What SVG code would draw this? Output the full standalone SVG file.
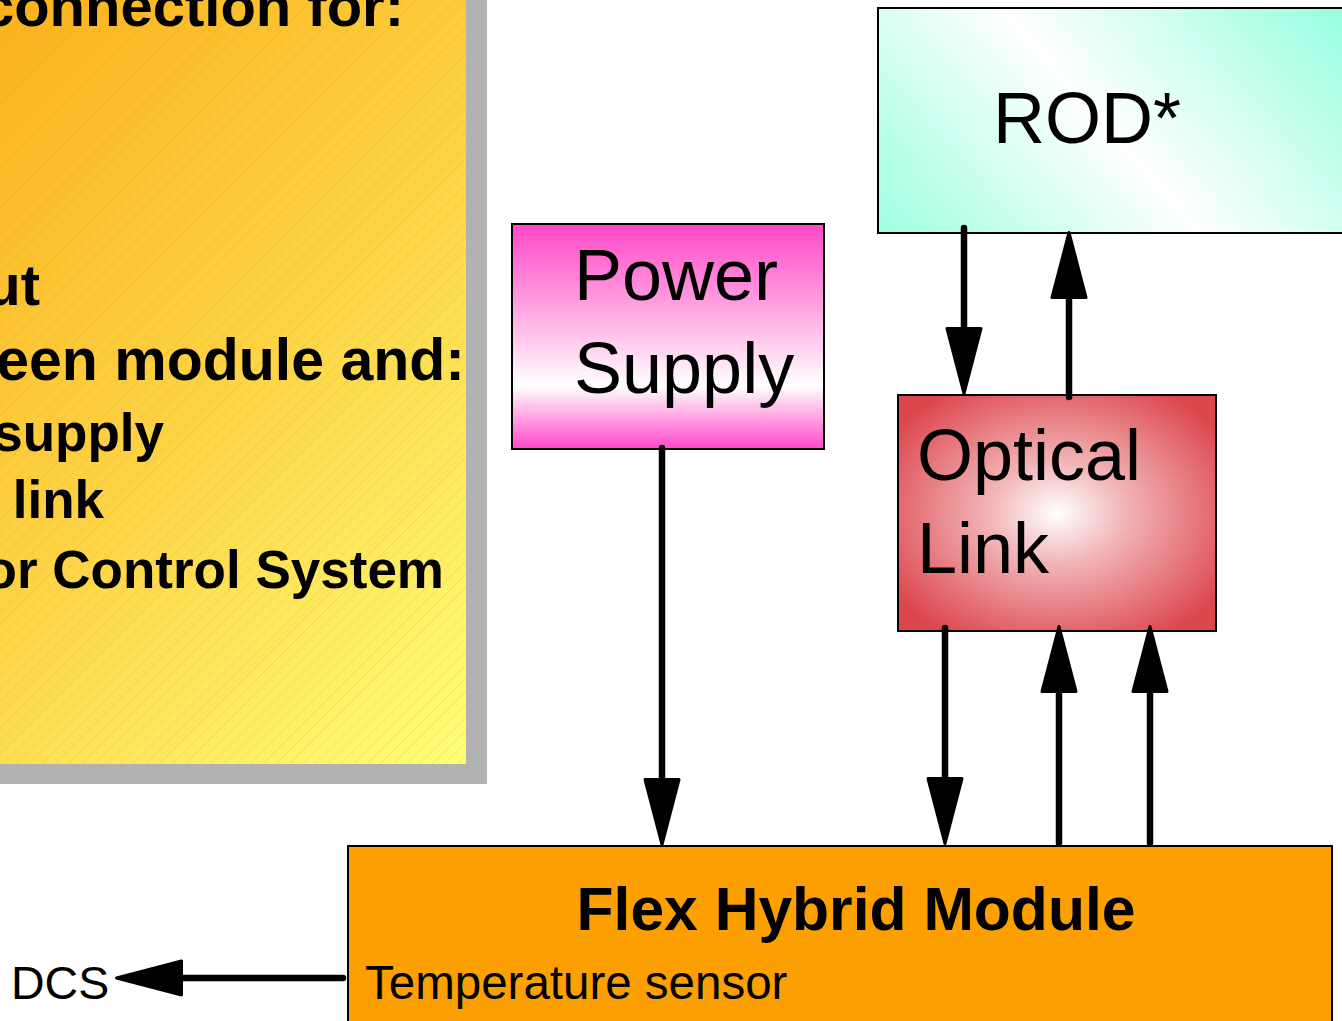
<svg xmlns="http://www.w3.org/2000/svg" width="1342" height="1021" viewBox="0 0 1342 1021">
  <defs>
    <style>
      .bold { font-family: "Liberation Sans", Arial, sans-serif; font-weight: bold; fill: #000; }
      .reg { font-family: "Liberation Sans", Arial, sans-serif; fill: #000; }
      .box { stroke: #000; stroke-width: 2; }
      .conn { stroke: #000; stroke-width: 6.5; fill: none; stroke-linecap: round; marker-end: url(#ah); }
    </style>
    <linearGradient id="gYellow" gradientUnits="userSpaceOnUse" x1="0" y1="0" x2="615" y2="615">
      <stop offset="0" stop-color="#FBB21C"/>
      <stop offset="0.5" stop-color="#FDD445"/>
      <stop offset="1" stop-color="#FFFF78"/>
    </linearGradient>
    <pattern id="hatch" patternUnits="userSpaceOnUse" width="13" height="13">
      <path d="M-1,14 L14,-1 M-1,1 L1,-1 M12,14 L14,12" stroke="#B08A30" stroke-opacity="0.18" stroke-width="1"/>
    </pattern>
    <linearGradient id="gPink" x1="0" y1="0" x2="0" y2="1">
      <stop offset="0" stop-color="#FF48C8"/>
      <stop offset="0.35" stop-color="#FF9EDF"/>
      <stop offset="0.72" stop-color="#FFFFFF"/>
      <stop offset="1" stop-color="#FF48C8"/>
    </linearGradient>
    <linearGradient id="gAqua" gradientUnits="userSpaceOnUse" x1="913" y1="286" x2="1287" y2="-46">
      <stop offset="0" stop-color="#99FFE0"/>
      <stop offset="0.5" stop-color="#FFFFFF"/>
      <stop offset="1" stop-color="#99FFE0"/>
    </linearGradient>
    <radialGradient id="gRed" cx="0.5" cy="0.5" r="0.62">
      <stop offset="0" stop-color="#FFFFFF"/>
      <stop offset="0.35" stop-color="#F2B4B6"/>
      <stop offset="1" stop-color="#DC464D"/>
    </radialGradient>
    <marker id="ah" markerUnits="userSpaceOnUse" markerWidth="74" markerHeight="44" viewBox="-3 -22 74 44" refX="0" refY="0" orient="auto">
      <path d="M0,-17 L65,0 L0,17 Z" fill="#000" stroke="#000" stroke-width="3" stroke-linejoin="round"/>
    </marker>
  </defs>

  <rect x="0" y="0" width="1342" height="1021" fill="#FFFFFF"/>

  <g id="panel">
    <rect x="-40" y="-40" width="527" height="824" fill="#B2B2B2"/>
    <rect x="-60" y="-60" width="526" height="824" fill="url(#gYellow)"/>
    <rect x="-60" y="-60" width="526" height="824" fill="url(#hatch)"/>
    <text class="bold" font-size="58" x="404" y="26" text-anchor="end">connection for:</text>
    <text class="bold" font-size="58" x="40" y="305" text-anchor="end">ut</text>
    <text class="bold" font-size="59" x="465" y="380" text-anchor="end">een module and:</text>
    <text class="bold" font-size="53" x="164" y="451" text-anchor="end">supply</text>
    <text class="bold" font-size="53" x="104" y="518" text-anchor="end">link</text>
    <text class="bold" font-size="53" x="444" y="588" text-anchor="end">or Control System</text>
  </g>

  <g id="rod">
    <rect class="box" x="878" y="8" width="480" height="225" fill="url(#gAqua)"/>
    <text class="reg" font-size="72" x="993" y="143">ROD*</text>
  </g>

  <g id="power-supply">
    <rect class="box" x="512" y="224" width="312" height="225" fill="url(#gPink)"/>
    <text class="reg" font-size="72" x="574" y="300">Power</text>
    <text class="reg" font-size="72" x="574" y="393">Supply</text>
  </g>

  <g id="optical-link">
    <rect class="box" x="898" y="395" width="318" height="236" fill="url(#gRed)"/>
    <text class="reg" font-size="72" x="917" y="480">Optical</text>
    <text class="reg" font-size="72" x="917" y="573">Link</text>
  </g>

  <g id="flex-hybrid-module">
    <rect class="box" x="348" y="846" width="984" height="200" fill="#FBA000"/>
    <text class="bold" font-size="60.6" x="856" y="930" text-anchor="middle">Flex Hybrid Module</text>
    <text class="reg" font-size="47.5" x="365" y="999">Temperature sensor</text>
  </g>

  <g id="dcs">
    <text class="reg" font-size="46.5" x="11" y="999">DCS</text>
  </g>

  <g id="connectors">
    <path class="conn" d="M662,448 L662,779.5"/>
    <path class="conn" d="M964,228 L964,328.5"/>
    <path class="conn" d="M1069,397 L1069,297.5"/>
    <path class="conn" d="M945,628 L945,778.5"/>
    <path class="conn" d="M1059,843 L1059,691.5"/>
    <path class="conn" d="M1150,843 L1150,691.5"/>
    <path class="conn" d="M343,978 L181.5,978"/>
  </g>
</svg>
